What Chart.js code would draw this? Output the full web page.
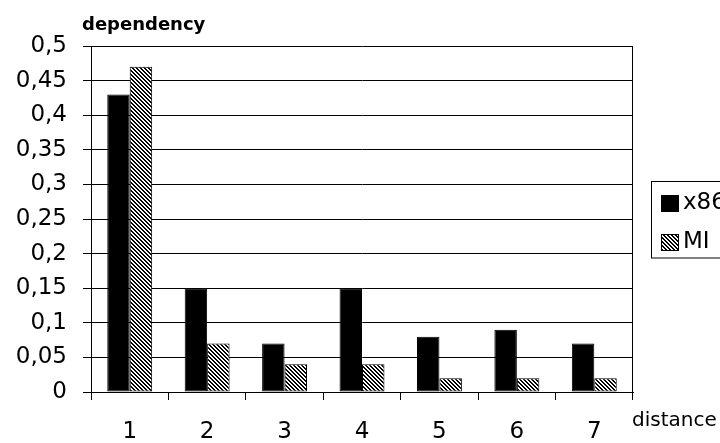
<!DOCTYPE html>
<html>
<head>
<meta charset="utf-8">
<script src="https://cdn.jsdelivr.net/npm/chart.js@4/dist/chart.umd.min.js"></script>
<style>
  html, body { margin: 0; padding: 0; background: #fff; overflow: hidden; }
</style>
</head>
<body>
<canvas id="chart" width="720" height="443"></canvas>
<script>
const distances = ['1', '2', '3', '4', '5', '6', '7'];
const x86 = [0.43, 0.15, 0.07, 0.15, 0.08, 0.09, 0.07];
const mi = [0.47, 0.07, 0.04, 0.04, 0.02, 0.02, 0.02];
const seriesNames = ['x86', 'MI'];
const yMax = 0.5;
const yStep = 0.05;

// diagonal hatch like the old excel fill
function hatch() {
  let p = document.createElement('canvas');
  p.width = 4; p.height = 4;
  let g = p.getContext('2d');
  g.fillStyle = '#fff';
  g.fillRect(0, 0, 4, 4);
  g.fillStyle = '#000';
  for (let i = 0; i < 4; i++) {
    g.fillRect(i, i, 1, 1);
    g.fillRect((i + 1) % 4, i, 1, 1);
  }
  return g.createPattern(p, 'repeat');
}
let hatchFill = hatch();

let labelsPlugin = {
  id: 'labels',
  afterDraw(chart) {
    let ctx = chart.ctx;
    ctx.save();
    ctx.fillStyle = '#000';
    ctx.textBaseline = 'alphabetic';
    ctx.textAlign = 'left';
    ctx.font = 'bold 18px "DejaVu Sans"';
    ctx.fillText('dependency', 82, 30);
    ctx.font = '20px "DejaVu Sans"';
    ctx.fillText('distance', 632, 426);

    // legend box, runs off the right edge
    ctx.strokeStyle = '#000';
    ctx.lineWidth = 1;
    ctx.strokeRect(651.5, 181.5, 100, 76.5);
    chart.data.datasets.forEach((ds, i) => {
      let y = 195 + i * 39;
      ctx.fillStyle = ds.backgroundColor;
      ctx.fillRect(661, y, 17, 16);
      ctx.strokeRect(661.5, y + 0.5, 17, 16);
      ctx.fillStyle = '#000';
      ctx.font = '23px "DejaVu Sans"';
      ctx.textBaseline = 'middle';
      ctx.fillText(ds.label, 683, y + 8);
    });
    ctx.restore();
  }
};

new Chart(document.getElementById('chart'), {
  type: 'bar',
  data: {
    labels: distances,
    datasets: [
      { label: seriesNames[0], data: x86, backgroundColor: '#000', borderColor: '#000', borderWidth: 1, borderSkipped: false },
      { label: seriesNames[1], data: mi, backgroundColor: hatchFill, borderColor: '#000', borderWidth: 1, borderSkipped: false }
    ]
  },
  options: {
    responsive: false,
    animation: false,
    layout: { padding: { top: 46, right: 87, left: 0, bottom: 0 } },
    plugins: { legend: { display: false }, tooltip: { enabled: false } },
    datasets: { bar: { categoryPercentage: 0.58, barPercentage: 1.0 } },
    scales: {
      x: {
        afterFit: s => { s.height = 51; },
        grid: {
          offset: true,
          color: c => (c.index === 0 || c.index === undefined) ? '#000' : 'rgba(0,0,0,0)',
          tickColor: '#000',
          tickLength: 8,
          lineWidth: 1
        },
        border: { color: '#000' },
        ticks: { color: '#000', padding: 18, font: { family: 'DejaVu Sans', size: 23 } }
      },
      y: {
        min: 0,
        max: yMax,
        afterFit: s => { s.width = 91; },
        grid: { color: '#000', tickColor: '#000', tickLength: 8, lineWidth: 1 },
        border: { color: '#000' },
        ticks: {
          stepSize: yStep,
          color: '#000',
          padding: 16,
          font: { family: 'DejaVu Sans', size: 23 },
          callback: v => String(Math.round(v * 100) / 100).replace('.', ',')
        }
      }
    }
  },
  plugins: [labelsPlugin]
});
</script>
</body>
</html>
